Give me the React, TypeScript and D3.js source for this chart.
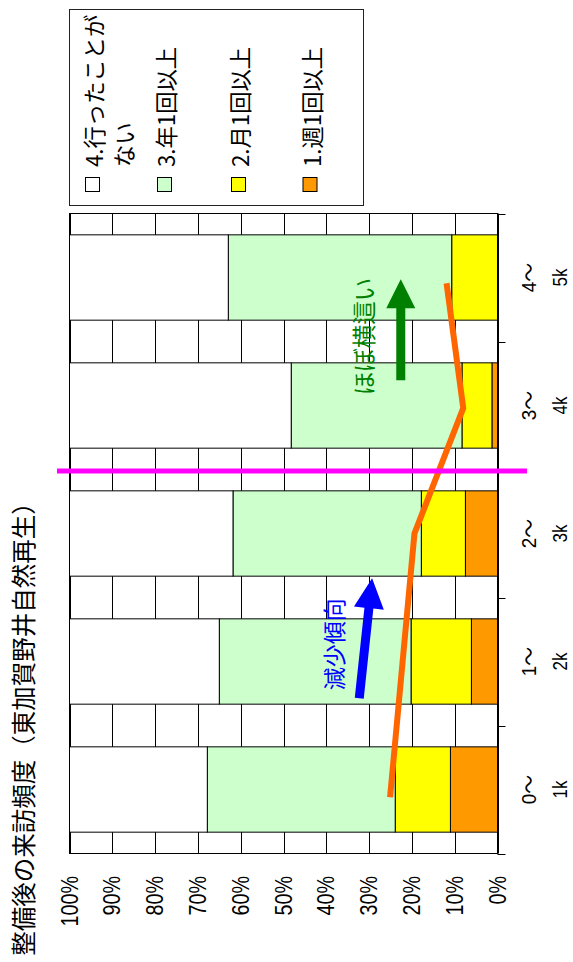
import React from "react";
import * as d3 from "d3";

// ---- data ----
const rangeStart = ["0～", "1～", "2～", "3～", "4～"];
const rangeEnd = ["1k", "2k", "3k", "4k", "5k"];
const weekly = [11.0, 6.1, 7.5, 1.3, 0];
const monthly = [12.9, 14.1, 10.3, 7.0, 10.7];
const yearly = [43.9, 44.8, 44.0, 39.9, 52.2];
const never = [32.2, 35.0, 38.2, 51.8, 37.1];
const seriesKeys = ["weekly", "monthly", "yearly", "never"];
const seriesColors = ["#FF9900", "#FFFF00", "#CCFFCC", "#FFFFFF"];
const legendLabels = [["4.行ったことが", "ない"], ["3.年1回以上"], ["2.月1回以上"], ["1.週1回以上"]];
const legendColors = ["#FFFFFF", "#CCFFCC", "#FFFF00", "#FF9900"];
const valueTicks = [0, 10, 20, 30, 40, 50, 60, 70, 80, 90, 100];
const titleText = "整備後の来訪頻度（東加賀野井自然再生）";
// hand-drawn trend line (category position, percent)
const trendIndex = [-0.06, 2.0, 2.98, 3.955];
const trendValue = [25.1, 19.4, 8.0, 11.9];
// annotations
const blueArrowFrom = [0.713, 32.3];
const blueArrowTo = [1.65, 29.3];
const blueText = "減少傾向";
const blueTextAt = [1.135, 38.4];
const greenArrowFrom = [3.198, 22.6];
const greenArrowTo = [3.987, 22.6];
const greenText = "ほぼ横這い";
const greenTextAt = [3.54, 31.4];

const W = 573;
const H = 962;
const left = 69.5, right = 497.5, top = 213.5, bottom = 853.5;
const JP = "'Noto Sans CJK JP', sans-serif";
const NUM = "'Liberation Sans', 'Noto Sans CJK JP', sans-serif";

function arrowPoints(x1: number, y1: number, x2: number, y2: number, sw: number, hw: number, hl: number) {
  const dx = x2 - x1, dy = y2 - y1;
  const len = Math.hypot(dx, dy);
  const ux = dx / len, uy = dy / len;
  const px = -uy, py = ux;
  const bx = x2 - ux * hl, by = y2 - uy * hl;
  const pts = [
    [x1 + px * sw / 2, y1 + py * sw / 2],
    [bx + px * sw / 2, by + py * sw / 2],
    [bx + px * hw / 2, by + py * hw / 2],
    [x2, y2],
    [bx - px * hw / 2, by - py * hw / 2],
    [bx - px * sw / 2, by - py * sw / 2],
    [x1 - px * sw / 2, y1 - py * sw / 2],
  ];
  return pts.map((p) => p.join(",")).join(" ");
}

export default function App() {
  const x = d3.scaleLinear().domain([0, 100]).range([right, left]);
  const band = d3.scaleBand<number>().domain(d3.range(5)).range([bottom, top]).paddingInner(1 / 3).paddingOuter(1 / 6);
  const pos = d3.scaleLinear().domain([-0.5, 4.5]).range([bottom, top]);

  const table = rangeStart.map((_, i) => ({
    i,
    weekly: weekly[i],
    monthly: monthly[i],
    yearly: yearly[i],
    never: never[i],
  }));
  const stacked = d3.stack<any>().keys(seriesKeys)(table);

  const trendLine = d3
    .line<number>()
    .x((_, k) => x(trendValue[k]))
    .y((_, k) => pos(trendIndex[k]))(trendIndex);

  const bw = band.bandwidth();
  const bandTicks = d3.range(6).map((k) => pos(k - 0.5));

  return (
    <svg width={W} height={H} style={{ position: "absolute", left: 0, top: 0, display: "block", background: "#fff" }}>
      {/* title */}
      <text
        transform={`translate(22.5,723) rotate(-90)`}
        textAnchor="middle"
        dominantBaseline="central"
        fontFamily={JP}
        fontSize={24.5}
        fill="#000"
      >
        {titleText}
      </text>

      {/* legend */}
      <rect x={69.5} y={9.5} width={294} height={196} fill="#fff" stroke="#222" strokeWidth={1} />
      {legendLabels.map((lines, k) => {
        const cx = [92.5, 164.5, 238.5, 310][k];
        return (
          <g key={k}>
            <rect x={cx - 7} y={177.5} width={14} height={14} fill={legendColors[k]} stroke="#000" strokeWidth={1} />
            {lines.map((ln, j) => (
              <text
                key={j}
                transform={`translate(${cx + 0.5 + j * 30},167) rotate(-90)`}
                textAnchor="start"
                dominantBaseline="central"
                fontFamily={JP}
                fontSize={22.3}
                fill="#000"
              >
                {ln}
              </text>
            ))}
          </g>
        );
      })}

      {/* plot background & gridlines */}
      <rect x={left} y={top} width={right - left} height={bottom - top} fill="#fff" />
      {valueTicks.map((t) => (
        <line key={t} x1={Math.round(x(t)) + 0.5} x2={Math.round(x(t)) + 0.5} y1={top} y2={bottom} stroke="#000" strokeWidth={1} />
      ))}

      {/* bars */}
      {stacked.map((s, si) => (
        <g key={si}>
          {s.map((d: any, i: number) => {
            const x0 = x(d[0]), x1 = x(d[1]);
            if (d[1] - d[0] <= 0) return null;
            return (
              <rect
                key={i}
                x={x1}
                y={band(i)!}
                width={x0 - x1}
                height={bw}
                fill={seriesColors[si]}
                stroke="#000"
                strokeWidth={1}
              />
            );
          })}
        </g>
      ))}

      {/* plot border */}
      <rect x={left} y={top} width={right - left} height={bottom - top} fill="none" stroke="#000" strokeWidth={1} />
      {/* category axis ticks */}
      {bandTicks.map((t, k) => (
        <line key={k} x1={right} x2={right + 8} y1={Math.round(t) + 0.5} y2={Math.round(t) + 0.5} stroke="#000" strokeWidth={1} />
      ))}

      {/* value tick labels */}
      {valueTicks.map((t) => (
        <text
          key={t}
          transform={`translate(${x(t)},876) rotate(-90) scale(0.84,1)`}
          textAnchor="end"
          dominantBaseline="central"
          fontFamily={NUM}
          fontSize={23.5}
          fill="#000"
        >
          {t}%
        </text>
      ))}

      {/* category labels */}
      {rangeStart.map((s, i) => (
        <g key={i}>
          <text
            transform={`translate(529,${pos(i)}) rotate(-90) scale(0.9,1)`}
            textAnchor="middle"
            dominantBaseline="central"
            fontFamily={NUM}
            fontSize={21}
            fill="#000"
          >
            {s}
          </text>
          <text
            transform={`translate(560,${pos(i)}) rotate(-90) scale(0.85,1)`}
            textAnchor="middle"
            dominantBaseline="central"
            fontFamily={NUM}
            fontSize={20}
            fill="#000"
          >
            {rangeEnd[i]}
          </text>
        </g>
      ))}

      {/* trend line */}
      <path d={trendLine || ""} fill="none" stroke="#FF6600" strokeWidth={6} strokeLinejoin="miter" />

      {/* magenta divider */}
      <line x1={57} x2={527} y1={471} y2={471} stroke="#FF00FF" strokeWidth={5} />

      {/* blue annotation */}
      <polygon
        points={arrowPoints(x(blueArrowFrom[1]), pos(blueArrowFrom[0]), x(blueArrowTo[1]), pos(blueArrowTo[0]), 9, 30, 30)}
        fill="#0000FF"
      />
      <text
        transform={`translate(${x(blueTextAt[1])},${pos(blueTextAt[0])}) rotate(-90)`}
        textAnchor="middle"
        dominantBaseline="central"
        fontFamily={JP}
        fontSize={23}
        fill="#0000FF"
      >
        {blueText}
      </text>

      {/* green annotation */}
      <polygon
        points={arrowPoints(x(greenArrowFrom[1]), pos(greenArrowFrom[0]), x(greenArrowTo[1]), pos(greenArrowTo[0]), 9, 29, 29)}
        fill="#008000"
      />
      <text
        transform={`translate(${x(greenTextAt[1])},${pos(greenTextAt[0])}) rotate(-90)`}
        textAnchor="middle"
        dominantBaseline="central"
        fontFamily={JP}
        fontSize={23.5}
        fill="#008000"
      >
        {greenText}
      </text>
    </svg>
  );
}
